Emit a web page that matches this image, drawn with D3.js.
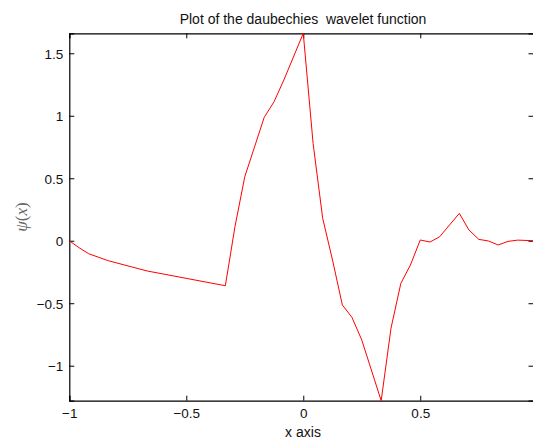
<!DOCTYPE html>
<html>
<head>
<meta charset="utf-8">
<script src="https://cdn.jsdelivr.net/npm/d3@7"></script>
<style>
  body { margin: 0; background: #fff; }
  text { font-family: "Liberation Sans", Arial, sans-serif; }
</style>
</head>
<body>
<div id="my_dataviz"></div>
<script>
// data
const xValues = [-1, -0.958, -0.917, -0.833, -0.667, -0.333, -0.292, -0.25, -0.167, -0.125, -0.083,
  0, 0.042, 0.083, 0.125, 0.167, 0.208, 0.25, 0.333, 0.375, 0.417, 0.458, 0.5, 0.542, 0.583,
  0.625, 0.667, 0.708, 0.75, 0.792, 0.833, 0.875, 0.917, 0.984];
const psiValues = [0, -0.056, -0.104, -0.16, -0.242, -0.36, 0.112, 0.512, 0.987, 1.112, 1.286,
  1.66, 0.779, 0.179, -0.154, -0.514, -0.613, -0.794, -1.28, -0.7, -0.341, -0.194, 0.006, -0.01, 0.032,
  0.126, 0.219, 0.086, 0.011, -0.002, -0.034, -0.005, 0.005, 0];
const xTicks = [-1, -0.5, 0, 0.5, 1];
const yTicks = [-1, -0.5, 0, 0.5, 1, 1.5];

const data = xValues.map((x, i) => ({ x: x, y: psiValues[i] }));

// 1. margins and dimensions
const margin = { top: 33.3, right: -0.5, bottom: 42.3, left: 69.3 },
  width = 533 - margin.left - margin.right,
  height = 443 - margin.top - margin.bottom;

const root = d3.select("#my_dataviz")
  .append("svg")
  .attr("width", 533)
  .attr("height", 443);

const svg = root.append("g")
  .attr("transform", `translate(${margin.left}, ${margin.top})`);

// 2. scales
const x = d3.scaleLinear().domain([-1, 0.984]).range([0, width]);
const y = d3.scaleLinear().domain([-1.28, 1.66]).range([height, 0]);

const fmt = (d) => (d < 0 ? "\u2212" + Math.abs(d) : String(d));

// 3. axes (ticks inward, mirrored on all sides)
const xt = xTicks.filter((d) => d <= 0.984);
const bottomAxis = svg.append("g")
  .attr("transform", `translate(0, ${height})`)
  .call(d3.axisBottom(x).tickValues(xt).tickSize(-5).tickPadding(8).tickFormat(fmt));
const topAxis = svg.append("g")
  .call(d3.axisTop(x).tickValues(xt).tickSize(-5).tickFormat(""));
const leftAxis = svg.append("g")
  .call(d3.axisLeft(y).tickValues(yTicks).tickSize(-5).tickPadding(6).tickFormat(fmt));
const rightAxis = svg.append("g")
  .attr("transform", `translate(${width}, 0)`)
  .call(d3.axisRight(y).tickValues(yTicks).tickSize(-5).tickFormat(""));

[bottomAxis, topAxis, leftAxis, rightAxis].forEach((g) => {
  g.select(".domain").attr("stroke", "#000").attr("stroke-width", 1.2);
  g.selectAll(".tick line").attr("stroke", "#000");
  g.selectAll(".tick text")
    .attr("fill", "#111")
    .style("font-size", "13.5px")
    .style("font-family", "'Liberation Sans', Arial, sans-serif");
});
leftAxis.selectAll(".tick text").attr("dy", "0.36em");

// 4. the wavelet curve
svg.append("path")
  .datum(data)
  .attr("fill", "none")
  .attr("stroke", "#ff0000")
  .attr("stroke-width", 1)
  .attr("d", d3.line().x((d) => x(d.x)).y((d) => y(d.y)));

// 5. title and labels
root.append("text")
  .attr("x", 303)
  .attr("y", 24)
  .attr("text-anchor", "middle")
  .style("font-size", "14px")
  .attr("fill", "#111")
  .attr("xml:space", "preserve")
  .text("Plot of the daubechies  wavelet function");

root.append("text")
  .attr("x", 303)
  .attr("y", 437)
  .attr("text-anchor", "middle")
  .style("font-size", "14px")
  .attr("fill", "#111")
  .text("x axis");

const yl = root.append("text")
  .attr("transform", "translate(27, 217) rotate(-90)")
  .attr("text-anchor", "middle")
  .attr("fill", "#666")
  .style("font-family", "'Liberation Serif', 'DejaVu Serif', serif")
  .style("font-size", "17px");
yl.append("tspan").style("font-style", "italic").text("\u03C8");
yl.append("tspan").text("(");
yl.append("tspan").style("font-style", "italic").text("x");
yl.append("tspan").text(")");
</script>
</body>
</html>
